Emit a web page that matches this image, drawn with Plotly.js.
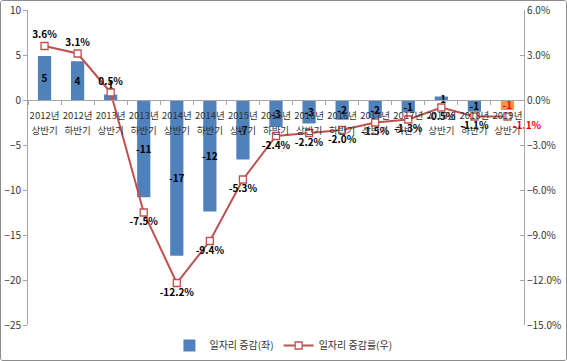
<!DOCTYPE html>
<html><head><meta charset="utf-8">
<script src="https://cdn.plot.ly/plotly-3.0.1.min.js"></script>
<style>
html,body{margin:0;padding:0;background:#fff;}
#wrap{position:absolute;left:0;top:0;width:565px;height:359px;border:1px solid #8c8c8c;border-radius:3px;overflow:hidden;}
#chart{width:565px;height:359px;}
</style></head>
<body><div id="wrap"><div id="chart"></div></div>
<script>
const years = ['2012년','2012년','2013년','2013년','2014년','2014년','2015년','2015년','2016년','2016년','2017년','2017년','2018년','2018년','2019년'];
const halves = ['상반기','하반기','상반기','하반기','상반기','하반기','상반기','하반기','상반기','하반기','상반기','하반기','상반기','하반기','상반기'];
const categories = years.map((y,i)=> y + ' ' + halves[i]);
const jobChange = [4.9, 4.3, 0.6, -10.8, -17.3, -12.4, -6.6, -3.0, -2.6, -2.2, -2.0, -1.4, 0.4, -1.3, -1.1];
const jobChangeLabels = ['5','4','1','-11','-17','-12','-7','-3','-3','-2','-2','-1','-1','-1','-1'];
const jobRate = [3.6, 3.1, 0.5, -7.5, -12.2, -9.4, -5.3, -2.4, -2.2, -2.0, -1.5, -1.3, -0.5, -1.1, -1.1];
const jobRateLabels = ['3.6%','3.1%','0.5%','-7.5%','-12.2%','-9.4%','-5.3%','-2.4%','-2.2%','-2.0%','-1.5%','-1.3%','-0.5%','-1.1%','-1.1%'];
const seriesNames = ['일자리 증감(좌)','일자리 증감률(우)'];

const n = categories.length;
const barColors = categories.map((c,i)=> i===n-1 ? '#F79646' : '#4F81BD');
const barTextColors = categories.map((c,i)=> i===n-1 ? '#FF0000' : '#000000');
const barTextPos = jobChange.map((v,i)=> (i===2) ? 'outside' : 'inside');
const lineTextPos = jobRate.map((v,i)=> i<3 ? 'top center' : (i===n-1 ? 'bottom right' : 'bottom center'));
const lineTextColors = jobRate.map((v,i)=> i===n-1 ? '#FF0000' : '#000000');

const FONT = 'Noto Sans CJK KR, sans-serif';
const yRange = [-25, 10];
const xRange = [-0.5, n-0.5];
const zeroPos = (0-yRange[0])/(yRange[1]-yRange[0]);

const traces = [
 {type:'bar', name:seriesNames[0], x:categories, y:jobChange, width:0.4,
  marker:{color:barColors}, text:jobChangeLabels, textposition:barTextPos,
  insidetextanchor:'middle', constraintext:'none', textangle:0, cliponaxis:false,
  textfont:{family:FONT, size:10, color:barTextColors, weight:'bold'}, hoverinfo:'skip'},
 {type:'scatter', mode:'lines+markers+text', name:seriesNames[1], x:categories, y:jobRate, yaxis:'y2',
  line:{color:'#C0504D', width:2}, marker:{symbol:'square', size:7, color:'#FFFFFF', line:{color:'#C0504D', width:1.3}},
  text:jobRateLabels, textposition:lineTextPos, cliponaxis:false,
  textfont:{family:FONT, size:10, color:lineTextColors, weight:'bold'}, hoverinfo:'skip'},
 {type:'scatter', mode:'markers', x:categories, y:categories.map(()=>null), xaxis:'x2', showlegend:false, hoverinfo:'skip'}
];

const tickFont = {family:FONT, size:9.5, color:'#333'};
const layout = {
 width:565, height:359,
 margin:{l:27, r:42, t:9, b:35, autoexpand:false},
 paper_bgcolor:'#fff', plot_bgcolor:'#fff',
 font:{family:FONT, size:10, color:'#333'},
 showlegend:true,
 legend:{orientation:'h', x:0.515, xanchor:'center', y:-0.065, yanchor:'middle', font:{family:FONT, size:10, color:'#333'}, traceorder:'normal', itemwidth:30},
 xaxis:{type:'category', range:xRange, anchor:'free', position:zeroPos, automargin:false, tickangle:0,
   tickvals:categories, ticktext:years, ticklabelstandoff:7,
   showline:true, linecolor:'#A6A6A6', linewidth:1, ticks:'outside', ticklen:4, tickcolor:'#A6A6A6', tickson:'boundaries',
   tickfont:tickFont, showgrid:false, zeroline:false},
 xaxis2:{type:'category', range:xRange, overlaying:'x', anchor:'free', position:zeroPos, side:'bottom', automargin:false, tickangle:0,
   tickvals:categories, ticktext:halves, ticklabelstandoff:23, showline:false, ticks:'',
   tickfont:tickFont, showgrid:false, zeroline:false},
 yaxis:{range:yRange, dtick:5, showline:true, linecolor:'#A6A6A6', ticks:'outside', ticklen:4, tickcolor:'#A6A6A6', automargin:false,
   showgrid:false, zeroline:false, tickfont:{family:FONT, size:10, color:'#333'}},
 yaxis2:{range:[-15,6], dtick:3, overlaying:'y', side:'right', showline:true, linecolor:'#A6A6A6', ticks:'inside', ticklen:4, tickcolor:'#A6A6A6', automargin:false,
   tickformat:'.1f', ticksuffix:'%', showgrid:false, zeroline:false, tickfont:{family:FONT, size:10, color:'#333'}}
};

Plotly.newPlot('chart', traces, layout, {staticPlot:true});
</script></body></html>
